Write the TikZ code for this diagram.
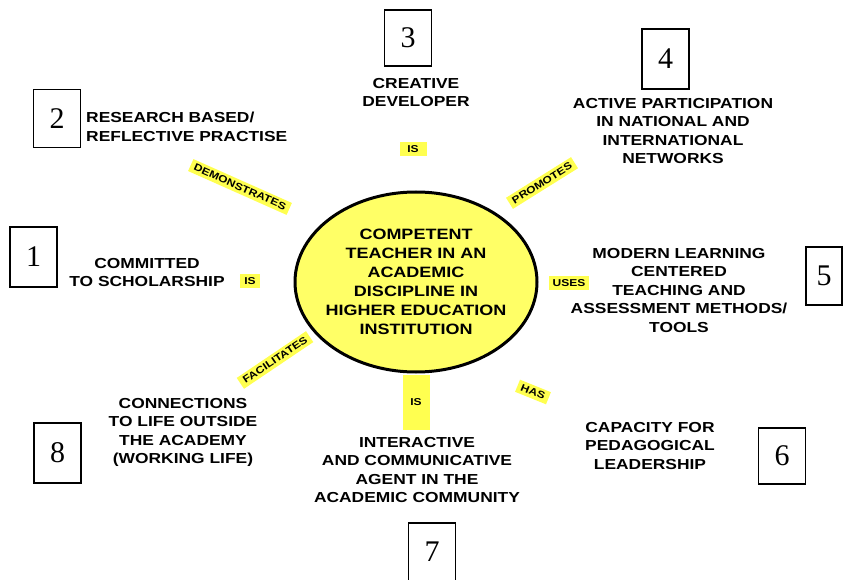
\documentclass[tikz,border=0pt]{standalone}
\usepackage{fontspec}
\setmainfont{Liberation Sans}
\newfontfamily\capsfont[FakeStretch=1.2]{Liberation Sans}
\newfontfamily\numfont{Liberation Serif}
\usetikzlibrary{shapes.geometric, positioning}
\definecolor{hubyellow}{RGB}{255,255,102}
\definecolor{tagyellow}{RGB}{255,255,80}

\begin{document}
\begin{tikzpicture}[x=1pt, y=-1pt, font=\capsfont\bfseries]
    \tikzstyle{hub} = [ellipse, draw=black, line width=3pt, fill=hubyellow, align=center, minimum width=242pt, minimum height=180pt, inner xsep=-8pt, font=\capsfont\bfseries\fontsize{15}{19}\selectfont]
    \tikzstyle{topic} = [align=center, inner sep=0pt, anchor=north, font=\capsfont\bfseries\fontsize{14.5}{18.5}\selectfont]
    \tikzstyle{tag} = [fill=tagyellow, inner xsep=4pt, inner ysep=3pt, font=\capsfont\bfseries\fontsize{10}{10}\selectfont]
    \tikzstyle{num} = [rectangle, draw=black, line width=1.2pt, minimum width=47pt, minimum height=58pt, font=\numfont\fontsize{30}{30}\selectfont]

    \useasboundingbox (0,0) rectangle (843,580);

    % Centre
    \node [hub] (teacher) at (416,282) {COMPETENT\\TEACHER IN AN\\ACADEMIC\\DISCIPLINE IN\\HIGHER EDUCATION\\INSTITUTION};

    % Qualities
    \node [topic] (committed) at (147,258) {COMMITTED\\TO SCHOLARSHIP};
    \node [topic, anchor=north west, align=left] (research) at (86,112) {RESEARCH BASED/\\REFLECTIVE PRACTISE};
    \node [topic] (creative) at (416,78) {CREATIVE\\DEVELOPER};
    \node [topic] (active) at (673,98) {ACTIVE PARTICIPATION\\IN NATIONAL AND\\INTERNATIONAL\\NETWORKS};
    \node [topic] (modern) at (679,248) {MODERN LEARNING\\CENTERED\\TEACHING AND\\ASSESSMENT METHODS/\\TOOLS};
    \node [topic] (capacity) at (650,422) {CAPACITY FOR\\PEDAGOGICAL\\LEADERSHIP};
    \node [topic] (interactive) at (417,437) {INTERACTIVE\\AND COMMUNICATIVE\\AGENT IN THE\\ACADEMIC COMMUNITY};
    \node [topic] (connections) at (183,398) {CONNECTIONS\\TO LIFE OUTSIDE\\THE ACADEMY\\(WORKING LIFE)};

    % Relations
    \node [tag] (is1) at (250,281) {IS};
    \node [tag, rotate=-24] (demonstrates) at (240,187) {DEMONSTRATES};
    \node [tag, minimum width=27pt] (is3) at (413,149) {IS};
    \node [tag, rotate=32] (promotes) at (542,183) {PROMOTES};
    \node [tag] (uses) at (569,283) {USES};
    \node [tag, rotate=-22] (has) at (533,392) {HAS};
    \node [tag, minimum width=27pt, minimum height=55pt] (is7) at (416,402) {IS};
    \node [tag, rotate=34] (facilitates) at (275,360) {FACILITATES};

    % Numbers
    \node [num, minimum height=60pt] (n1) at (33.5,257) {1};
    \node [num] (n2) at (57,118.5) {2};
    \node [num, minimum height=56pt] (n3) at (408,38) {3};
    \node [num, minimum height=60pt] (n4) at (665.5,59) {4};
    \node [num, minimum width=36pt] (n5) at (824,276) {5};
    \node [num, minimum height=56pt] (n6) at (782,456) {6};
    \node [num] (n7) at (432,552) {7};
    \node [num, minimum height=60pt] (n8) at (57.5,453) {8};
\end{tikzpicture}
\end{document}
